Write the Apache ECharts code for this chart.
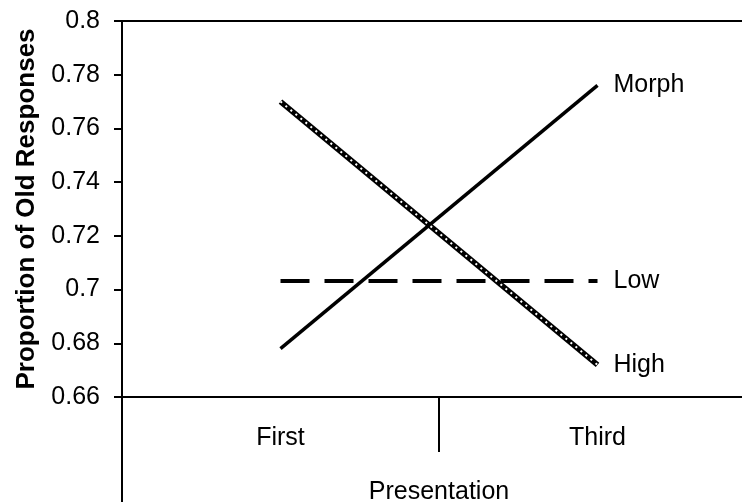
<!DOCTYPE html>
<html>
<head>
<meta charset="utf-8">
<script src="https://cdn.jsdelivr.net/npm/echarts@6/dist/echarts.min.js"></script>
<style>
  html, body { margin: 0; padding: 0; background: #fff; }
  #main { width: 742px; height: 502px; }
</style>
</head>
<body>
<div id="main"></div>
<script>
  // data
  var categories = ['First', 'Third'];
  var morphVals = [0.678, 0.776];
  var lowVals = [0.7032, 0.7032];
  var highVals = [0.770, 0.672];
  var yTicks = [0.66, 0.68, 0.70, 0.72, 0.74, 0.76, 0.78, 0.80];

  var font = 'Liberation Sans, Arial, sans-serif';
  var chart = echarts.init(document.getElementById('main'));

  function endLabel(name) {
    return {
      show: true,
      formatter: name,
      distance: 16,
      color: '#000',
      fontSize: 25,
      fontFamily: font
    };
  }

  var option = {
    animation: false,
    backgroundColor: '#fff',
    // plot area runs past the right edge of the picture
    grid: { left: 122, width: 634, top: 21, height: 376, outerBoundsMode: 'none', containLabel: false },
    xAxis: [{
      type: 'category',
      data: categories,
      boundaryGap: true,
      name: 'Presentation',
      nameLocation: 'middle',
      nameGap: 83,
      nameTextStyle: { color: '#000', fontSize: 25, fontFamily: font },
      axisLine: { lineStyle: { color: '#000', width: 2 } },
      axisTick: { show: true, interval: 0, length: 55, lineStyle: { color: '#000', width: 2 } },
      axisLabel: { color: '#000', fontSize: 25, fontFamily: font, margin: 29 },
      splitLine: { show: false }
    }, {
      type: 'category',
      data: categories,
      position: 'top',
      axisLine: { lineStyle: { color: '#000', width: 2 } },
      axisTick: { show: false },
      axisLabel: { show: false }
    }],
    yAxis: {
      type: 'value',
      min: yTicks[0],
      max: yTicks[yTicks.length - 1],
      interval: 0.02,
      name: 'Proportion of Old Responses',
      nameLocation: 'middle',
      nameGap: 82,
      nameTextStyle: { color: '#000', fontSize: 26, fontWeight: 'bold', fontFamily: font },
      axisLine: { show: true, lineStyle: { color: '#000', width: 2 } },
      axisTick: { show: true, length: 8, lineStyle: { color: '#000', width: 2 } },
      axisLabel: {
        color: '#000', fontSize: 25, fontFamily: font, margin: 22,
        formatter: function (v) { return String(parseFloat(v.toFixed(2))); }
      },
      splitLine: { show: false }
    },
    graphic: [{
      type: 'line',
      shape: { x1: 122, y1: 397, x2: 122, y2: 502 },
      style: { stroke: '#000', lineWidth: 2 }
    }],
    series: [{
      name: 'Morph',
      type: 'line',
      data: morphVals,
      symbol: 'none',
      lineStyle: { color: '#000', width: 3.5 },
      endLabel: endLabel('Morph')
    }, {
      name: 'Low',
      type: 'line',
      data: lowVals,
      symbol: 'none',
      lineStyle: { color: '#000', width: 4, type: [29, 15], cap: 'butt' },
      endLabel: endLabel('Low')
    }, {
      name: 'High',
      type: 'line',
      data: highVals,
      symbol: 'none',
      lineStyle: { color: '#000', width: 5.5 },
      endLabel: endLabel('High')
    }, {
      name: 'High dots',
      type: 'line',
      data: highVals,
      symbol: 'none',
      lineStyle: { color: '#fff', width: 2, type: [2, 4.5], cap: 'butt' }
    }]
  };

  chart.setOption(option);
</script>
</body>
</html>
